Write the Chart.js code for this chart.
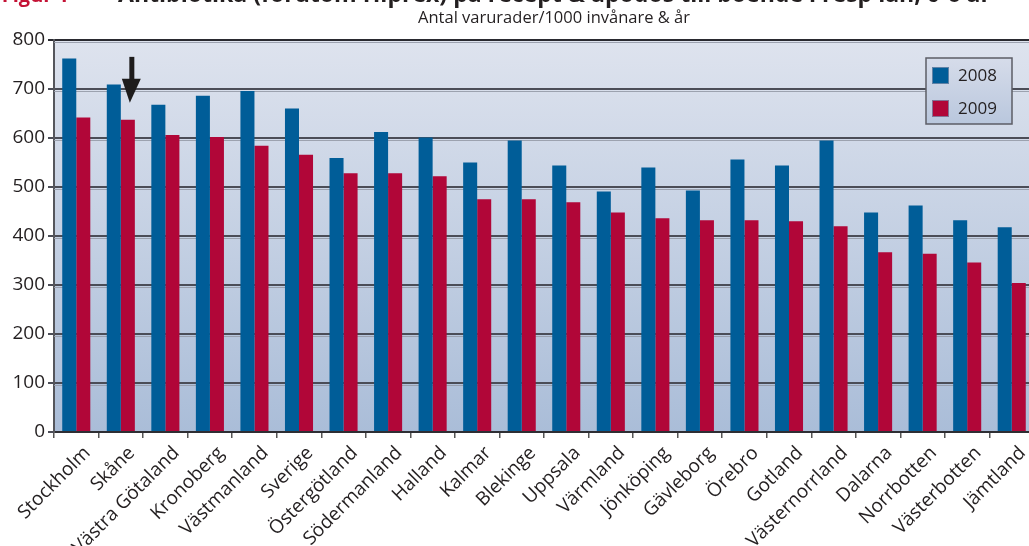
<!DOCTYPE html>
<html>
<head>
<meta charset="utf-8">
<script src="https://cdn.jsdelivr.net/npm/chart.js@4/dist/chart.umd.min.js"></script>
<style>
  html, body { margin: 0; padding: 0; background: #fff; overflow: hidden; width: 1029px; height: 546px; }
  canvas { display: block; }
</style>
</head>
<body>
<canvas id="chart" width="1040" height="600"></canvas>
<script>
// Län (and the national total "Sverige"), sorted by the 2009 value
const categories = ['Stockholm', 'Skåne', 'Västra Götaland', 'Kronoberg', 'Västmanland', 'Sverige',
  'Östergötland', 'Södermanland', 'Halland', 'Kalmar', 'Blekinge', 'Uppsala', 'Värmland',
  'Jönköping', 'Gävleborg', 'Örebro', 'Gotland', 'Västernorrland', 'Dalarna', 'Norrbotten',
  'Västerbotten', 'Jämtland'];

// Antal varurader per 1000 invånare och år
const values2008 = [762, 709, 668, 686, 696, 660, 559, 612, 601, 550, 595, 544, 491, 540, 493, 556, 544, 595, 448, 462, 432, 418];
const values2009 = [642, 637, 606, 602, 584, 566, 528, 528, 522, 475, 475, 469, 448, 436, 432, 432, 430, 420, 367, 364, 346, 304];

const seriesNames = ['2008', '2009'];
const yTicks = [0, 100, 200, 300, 400, 500, 600, 700, 800];

const figureLabel = 'Figur 1';
const titleText = 'Antibiotika (förutom Hiprex) på recept & apodos till boende i resp län, 0-6 år';
const subtitleText = 'Antal varurader/1000 invånare & år';
const markedCategory = 'Skåne';

const FONT = "'Open Sans', 'DejaVu Sans', sans-serif";
const TEXT = '#231f20';

// Soft blue gradient behind the plot area
const plotBackground = {
  id: 'plotBackground',
  beforeDraw(chart) {
    const { ctx, chartArea: a } = chart;
    const g = ctx.createLinearGradient(0, a.top, 0, a.bottom);
    g.addColorStop(0, '#dee3ee');
    g.addColorStop(1, '#aabdd8');
    ctx.save();
    ctx.fillStyle = g;
    ctx.fillRect(a.left, a.top, a.right - a.left, a.bottom - a.top);
    ctx.restore();
  }
};

// Light embossed line under each horizontal grid line
const gridShadow = {
  id: 'gridShadow',
  beforeDatasetsDraw(chart) {
    const { ctx, chartArea: a, scales: { y } } = chart;
    ctx.save();
    ctx.strokeStyle = 'rgba(150,155,168,0.9)';
    ctx.lineWidth = 1;
    yTicks.forEach(v => {
      if (v === 0) return;
      const py = Math.round(y.getPixelForValue(v)) + 2;
      ctx.beginPath();
      ctx.moveTo(a.left, py + 0.5);
      ctx.lineTo(a.right, py + 0.5);
      ctx.stroke();
    });
    ctx.restore();
  }
};

// Headings above the plot
const headings = {
  id: 'headings',
  afterDraw(chart) {
    const { ctx } = chart;
    ctx.save();
    ctx.textBaseline = 'alphabetic';
    ctx.font = `bold 20px ${FONT}`;
    ctx.fillStyle = '#c41235';
    ctx.textAlign = 'right';
    ctx.fillText(figureLabel, 69, 2);
    ctx.fillStyle = TEXT;
    ctx.textAlign = 'left';
    const w = ctx.measureText(titleText).width;
    const size = 20 * 873 / w;
    ctx.font = `bold ${size.toFixed(2)}px ${FONT}`;
    ctx.fillText(titleText, 118, 2);
    ctx.font = `16.5px ${FONT}`;
    ctx.textAlign = 'center';
    ctx.fillText(subtitleText, 554, 23);
    ctx.restore();
  }
};

// Arrow pointing at the highlighted län
const pointer = {
  id: 'pointer',
  afterDatasetsDraw(chart) {
    const idx = categories.indexOf(markedCategory);
    const bar = chart.getDatasetMeta(1).data[idx];
    if (!bar) return;
    const { ctx } = chart;
    const tipX = bar.x + 2, tipY = bar.y - 17;
    ctx.save();
    ctx.fillStyle = '#1e1c1c';
    ctx.beginPath();
    ctx.moveTo(tipX, tipY);
    ctx.lineTo(tipX - 8, tipY - 24);
    ctx.lineTo(tipX + 11, tipY - 24);
    ctx.closePath();
    ctx.fill();
    ctx.beginPath();
    ctx.moveTo(tipX - 0.5, tipY - 23);
    ctx.lineTo(tipX + 4.5, tipY - 23);
    ctx.lineTo(tipX + 4.5, tipY - 46);
    ctx.lineTo(tipX - 0.5, tipY - 46);
    ctx.closePath();
    ctx.fill();
    ctx.restore();
  }
};

// Boxed legend in the upper right of the plot
const boxLegend = {
  id: 'boxLegend',
  afterDraw(chart) {
    const { ctx, chartArea: a } = chart;
    const x = a.right - 108, y = a.top + 18, w = 86, h = 66;
    ctx.save();
    const g = ctx.createLinearGradient(0, y, 0, y + h);
    g.addColorStop(0, '#d6dcea');
    g.addColorStop(1, '#b9c7dd');
    ctx.fillStyle = g;
    ctx.fillRect(x, y, w, h);
    ctx.strokeStyle = '#5c5d66';
    ctx.lineWidth = 1.5;
    ctx.strokeRect(x, y, w, h);
    ctx.font = `17px ${FONT}`;
    ctx.textBaseline = 'middle';
    ctx.textAlign = 'left';
    chart.data.datasets.forEach((ds, i) => {
      const sy = y + 9 + i * 33;
      ctx.fillStyle = ds.backgroundColor;
      ctx.fillRect(x + 6, sy, 17, 17);
      ctx.strokeStyle = 'rgba(120,140,170,0.8)';
      ctx.lineWidth = 1;
      ctx.strokeRect(x + 6.5, sy + 0.5, 16, 16);
      ctx.fillStyle = TEXT;
      ctx.fillText(ds.label, x + 32, sy + 9);
    });
    ctx.restore();
  }
};

new Chart(document.getElementById('chart'), {
  type: 'bar',
  data: {
    labels: categories,
    datasets: [
      { label: seriesNames[0], data: values2008, backgroundColor: '#005d98' },
      { label: seriesNames[1], data: values2009, backgroundColor: '#b10638' }
    ]
  },
  options: {
    responsive: false,
    devicePixelRatio: 1,
    animation: false,
    layout: { padding: { top: 40, right: 6, left: 0, bottom: 0 } },
    datasets: { bar: { categoryPercentage: 0.63, barPercentage: 1.0 } },
    plugins: {
      legend: { display: false },
      title: { display: false },
      tooltip: { enabled: false }
    },
    scales: {
      x: {
        afterFit(scale) {
          scale.height = 168;
          // let the rotated labels run past the left edge instead of shrinking the plot
          scale.paddingLeft = 0;
          scale.paddingRight = 0;
        },
        ticks: {
          minRotation: 45,
          maxRotation: 45,
          autoSkip: false,
          labelOffset: 11,
          padding: 4,
          color: TEXT,
          font: { family: FONT, size: 19 }
        },
        grid: {
          display: true,
          drawOnChartArea: false,
          drawTicks: true,
          tickLength: 6,
          color: '#555',
          lineWidth: 1.5,
          offset: true
        },
        border: { display: true, color: '#2e2e33', width: 2 }
      },
      y: {
        min: 0,
        max: 800,
        afterFit(scale) { scale.width = 54; },
        afterBuildTicks(scale) { scale.ticks = yTicks.map(v => ({ value: v })); },
        ticks: {
          padding: 3,
          color: TEXT,
          font: { family: FONT, size: 19 }
        },
        grid: {
          color: ctx => ctx.tick && ctx.tick.value === 800 ? '#2a2a30' : '#4b4d57',
          lineWidth: 2,
          tickLength: 6,
          drawTicks: true
        },
        border: { display: true, color: '#55565c', width: 2 }
      }
    }
  },
  plugins: [plotBackground, gridShadow, pointer, boxLegend, headings]
});
</script>
</body>
</html>
